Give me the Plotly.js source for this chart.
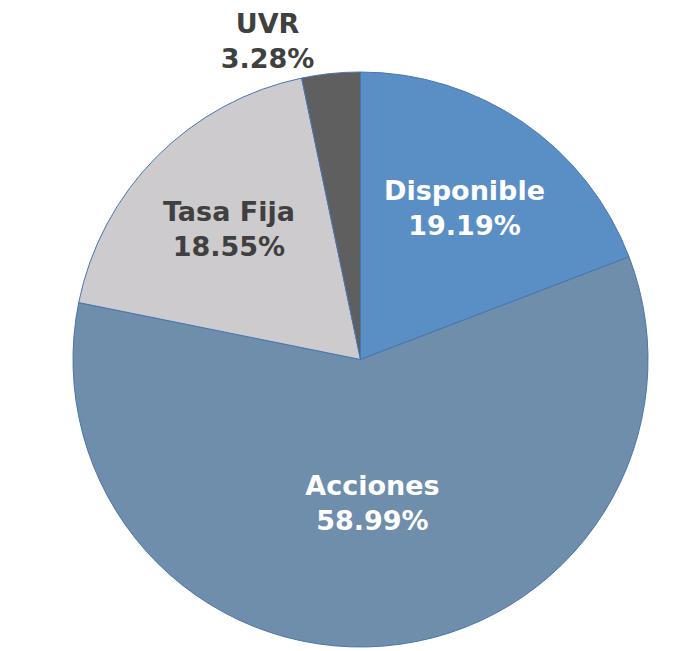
<!DOCTYPE html>
<html>
<head>
<meta charset="utf-8">
<script src="https://cdn.plot.ly/plotly-3.0.1.min.js"></script>
<style>html,body{margin:0;padding:0;background:#fff;}#chart{width:697px;height:651px;}</style>
</head>
<body>
<div id="chart"></div>
<script>
const categories = ["Disponible", "Acciones", "Tasa Fija", "UVR"];
const values = [19.19, 58.99, 18.55, 3.28];
const percentLabels = ["19.19%", "58.99%", "18.55%", "3.28%"];
const sliceColors = ["#5A8FC6", "#6E8EAB", "#CDCBCD", "#5F5F5F"];
const textColors = ["#FFFFFF", "#FFFFFF", "#404040", "#404040"];

const trace = {
  type: "pie",
  labels: categories,
  values: values,
  text: categories.map((c, i) => c + "<br>" + percentLabels[i]),
  textinfo: "text",
  hoverinfo: "label+text",
  sort: false,
  direction: "clockwise",
  rotation: 0,
  textposition: ["inside", "inside", "inside", "outside"],
  insidetextorientation: "horizontal",
  marker: {colors: sliceColors, line: {color: "#4A74B0", width: 1}},
  textfont: {family: "DejaVu Sans, Verdana, sans-serif", size: 27, color: textColors, weight: "bold"},
  outsidetextfont: {family: "DejaVu Sans, Verdana, sans-serif", size: 27, color: "#404040", weight: "bold"},
  showlegend: false
};

Plotly.newPlot("chart", [trace], {
  width: 697, height: 651,
  margin: {l: 24, r: 0, t: 72, b: 4},
  paper_bgcolor: "#FFFFFF",
  showlegend: false
}, {displayModeBar: false, staticPlot: true});
</script>
</body>
</html>
